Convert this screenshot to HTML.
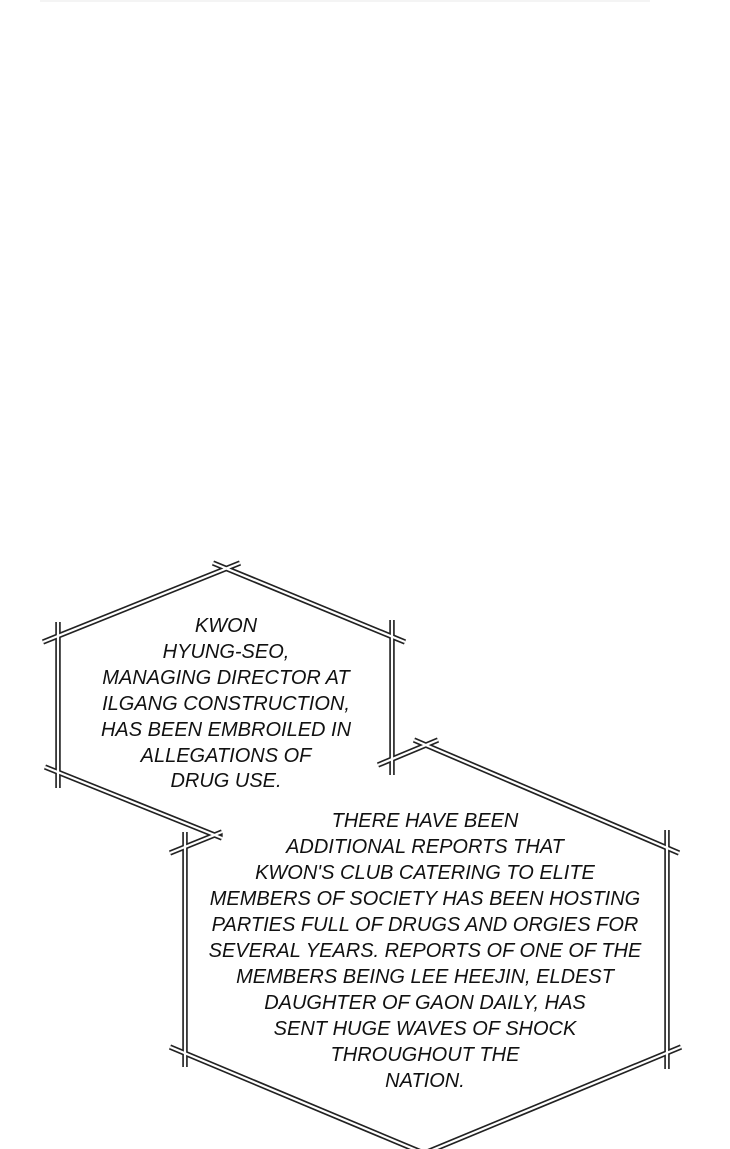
<!DOCTYPE html>
<html><head><meta charset="utf-8"><style>
html,body{margin:0;padding:0;background:#fff;}
svg{display:block;}
text{font-family:"Liberation Sans",sans-serif;font-style:italic;font-size:20px;fill:#111;text-anchor:middle;}
</style></head><body>
<svg width="730" height="1149" viewBox="0 0 730 1149" xmlns="http://www.w3.org/2000/svg">
<rect width="730" height="1149" fill="#fff"/>
<line x1="40" y1="1" x2="650" y2="1" stroke="#f4f4f4" stroke-width="2"/>
<g stroke-linecap="butt">
<g stroke="#222" stroke-width="5.5">
<line x1="43" y1="642" x2="240" y2="563"/>
<line x1="213" y1="563" x2="405" y2="642"/>
<line x1="58" y1="622" x2="58" y2="788"/>
<line x1="392" y1="620" x2="392" y2="775"/>
<line x1="45" y1="767" x2="222" y2="838"/>
<line x1="378" y1="765" x2="438" y2="740"/>
<line x1="170" y1="853" x2="222" y2="832"/>
<line x1="414" y1="740" x2="679" y2="853"/>
<line x1="667" y1="830" x2="667" y2="1069"/>
<line x1="185" y1="832" x2="185" y2="1067"/>
<line x1="170" y1="1047" x2="440" y2="1160"/>
<line x1="681" y1="1047" x2="408" y2="1160"/>
</g>
<g stroke="#fff" stroke-width="2.2">
<line x1="43" y1="642" x2="240" y2="563"/>
<line x1="213" y1="563" x2="405" y2="642"/>
<line x1="58" y1="622" x2="58" y2="788"/>
<line x1="392" y1="620" x2="392" y2="775"/>
<line x1="45" y1="767" x2="222" y2="838"/>
<line x1="378" y1="765" x2="438" y2="740"/>
<line x1="170" y1="853" x2="222" y2="832"/>
<line x1="414" y1="740" x2="679" y2="853"/>
<line x1="667" y1="830" x2="667" y2="1069"/>
<line x1="185" y1="832" x2="185" y2="1067"/>
<line x1="170" y1="1047" x2="440" y2="1160"/>
<line x1="681" y1="1047" x2="408" y2="1160"/>
</g>
</g>
<g>
<text x="226" y="632">KWON</text>
<text x="226" y="658">HYUNG-SEO,</text>
<text x="226" y="684">MANAGING DIRECTOR AT</text>
<text x="226" y="710">ILGANG CONSTRUCTION,</text>
<text x="226" y="736">HAS BEEN EMBROILED IN</text>
<text x="226" y="762">ALLEGATIONS OF</text>
<text x="226" y="787">DRUG USE.</text>
</g>
<g>
<text x="425" y="827">THERE HAVE BEEN</text>
<text x="425" y="853">ADDITIONAL REPORTS THAT</text>
<text x="425" y="879">KWON'S CLUB CATERING TO ELITE</text>
<text x="425" y="905">MEMBERS OF SOCIETY HAS BEEN HOSTING</text>
<text x="425" y="931">PARTIES FULL OF DRUGS AND ORGIES FOR</text>
<text x="425" y="957">SEVERAL YEARS. REPORTS OF ONE OF THE</text>
<text x="425" y="983">MEMBERS BEING LEE HEEJIN, ELDEST</text>
<text x="425" y="1009">DAUGHTER OF GAON DAILY, HAS</text>
<text x="425" y="1035">SENT HUGE WAVES OF SHOCK</text>
<text x="425" y="1061">THROUGHOUT THE</text>
<text x="425" y="1087">NATION.</text>
</g>
</svg>
</body></html>
